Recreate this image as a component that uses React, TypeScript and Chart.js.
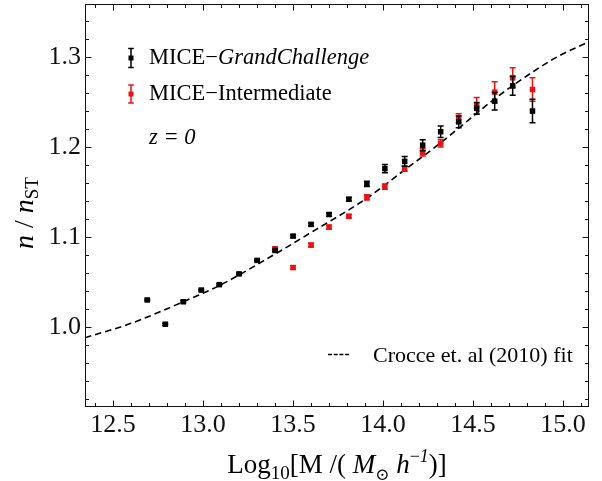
import { useEffect, useRef } from "react";
import { Chart, registerables } from "chart.js";

Chart.register(...registerables);

// MICE-GrandChallenge halo mass function ratio
const massGC = [12.69, 12.79, 12.89, 12.99, 13.09, 13.2, 13.3, 13.4, 13.5, 13.6, 13.7, 13.81, 13.91, 14.01, 14.12, 14.22, 14.32, 14.42, 14.52, 14.62, 14.72, 14.83];
const ratioGC = [1.03, 1.003, 1.028, 1.041, 1.047, 1.059, 1.074, 1.085, 1.101, 1.114, 1.125, 1.142, 1.159, 1.176, 1.184, 1.202, 1.217, 1.228, 1.243, 1.251, 1.268, 1.24];
const errGC = [0.001, 0.001, 0.001, 0.001, 0.001, 0.001, 0.001, 0.001, 0.0015, 0.0015, 0.002, 0.002, 0.003, 0.0045, 0.0055, 0.006, 0.0063, 0.0065, 0.0065, 0.0097, 0.0105, 0.013];

// MICE-Intermediate halo mass function ratio
const massInt = [13.4, 13.5, 13.6, 13.7, 13.81, 13.91, 14.01, 14.12, 14.22, 14.32, 14.42, 14.52, 14.62, 14.72, 14.83];
const ratioInt = [1.087, 1.066, 1.091, 1.111, 1.123, 1.144, 1.156, 1.176, 1.194, 1.204, 1.232, 1.246, 1.261, 1.277, 1.264];
const errInt = [0.002, 0.002, 0.002, 0.002, 0.002, 0.003, 0.003, 0.003, 0.004, 0.004, 0.005, 0.009, 0.0115, 0.011, 0.013];

// Crocce et al. (2010) fit
const fitMass = [12.344, 12.6, 12.89, 13.09, 13.4, 13.6, 13.909, 14.116, 14.316, 14.42, 14.623, 14.798, 14.965, 15.144];
const fitRatio = [0.988, 1.004, 1.028, 1.046, 1.081, 1.105, 1.143, 1.174, 1.204, 1.221, 1.254, 1.279, 1.3, 1.317];

const xTicks = [12.5, 13.0, 13.5, 14.0, 14.5, 15.0];
const yTicks = [1.0, 1.1, 1.2, 1.3];
const X_MIN = 12.344;
const X_MAX = 15.144;
const Y_MIN = 0.911;
const Y_MAX = 1.359;

const SERIF = "'Liberation Serif', 'DejaVu Serif', serif";
const RED = "#ee1111";
const errorSets = [errGC, errInt];

type Seg = { t: string; font: string; dy?: number };

function richWidth(ctx: CanvasRenderingContext2D, segs: Seg[]) {
  let w = 0;
  for (const s of segs) {
    ctx.font = s.font;
    w += ctx.measureText(s.t).width;
  }
  return w;
}

function drawRich(ctx: CanvasRenderingContext2D, segs: Seg[], x: number, y: number, center: boolean) {
  let cx = center ? x - richWidth(ctx, segs) / 2 : x;
  ctx.textAlign = "left";
  ctx.textBaseline = "alphabetic";
  for (const s of segs) {
    ctx.font = s.font;
    ctx.fillText(s.t, cx, y + (s.dy || 0));
    cx += ctx.measureText(s.t).width;
  }
}

function errIcon(ctx: CanvasRenderingContext2D, x: number, y: number, half: number, color: string) {
  ctx.save();
  ctx.strokeStyle = color;
  ctx.fillStyle = color;
  ctx.lineWidth = 1.5;
  ctx.beginPath();
  ctx.moveTo(x, y - half);
  ctx.lineTo(x, y + half);
  ctx.moveTo(x - 2.8, y - half);
  ctx.lineTo(x + 2.8, y - half);
  ctx.moveTo(x - 2.8, y + half);
  ctx.lineTo(x + 2.8, y + half);
  ctx.stroke();
  ctx.fillRect(x - 2.5, y - 2.5, 5, 5);
  ctx.restore();
}

// error bars drawn under each series' markers
const errorBarPlugin = {
  id: "errorBars",
  beforeDatasetDraw(chart: any, args: any) {
    const errs = errorSets[args.index];
    if (!errs) return;
    const ds = chart.data.datasets[args.index];
    const { ctx, scales } = chart;
    ctx.save();
    ctx.strokeStyle = ds.backgroundColor;
    ctx.lineWidth = 1.5;
    ctx.beginPath();
    ds.data.forEach((p: any, i: number) => {
      const x = scales.x.getPixelForValue(p.x);
      const yt = scales.y.getPixelForValue(p.y + errs[i]);
      const yb = scales.y.getPixelForValue(p.y - errs[i]);
      ctx.moveTo(x, yt);
      ctx.lineTo(x, yb);
      ctx.moveTo(x - 3, yt);
      ctx.lineTo(x + 3, yt);
      ctx.moveTo(x - 3, yb);
      ctx.lineTo(x + 3, yb);
    });
    ctx.stroke();
    ctx.restore();
  },
};

// frame with inward ticks on all four sides, axis titles and legend
const framePlugin = {
  id: "frame",
  afterDatasetsDraw(chart: any) {
    const { ctx, chartArea: a, scales } = chart;
    const L = Math.round(a.left) + 0.5;
    const R = Math.round(a.right) - 0.5;
    const T = Math.round(a.top) + 0.5;
    const B = Math.round(a.bottom) - 0.5;
    ctx.save();
    ctx.strokeStyle = "#111";
    ctx.lineWidth = 1;
    ctx.strokeRect(L, T, R - L, B - T);
    ctx.beginPath();
    for (let k = 124; k <= 151; k++) {
      const v = k / 10;
      const x = Math.round(scales.x.getPixelForValue(v)) + 0.5;
      const len = k % 5 === 0 ? 6 : 3.5;
      ctx.moveTo(x, B);
      ctx.lineTo(x, B - len);
      ctx.moveTo(x, T);
      ctx.lineTo(x, T + len);
    }
    for (let k = 46; k <= 67; k++) {
      const v = k / 50;
      const y = Math.round(scales.y.getPixelForValue(v)) + 0.5;
      const len = k % 5 === 0 ? 6 : 3.5;
      ctx.moveTo(L, y);
      ctx.lineTo(L + len, y);
      ctx.moveTo(R, y);
      ctx.lineTo(R - len, y);
    }
    ctx.stroke();

    ctx.fillStyle = "#000";
    const reg = (s: number) => `${s}px ${SERIF}`;
    const ital = (s: number) => `italic ${s}px ${SERIF}`;

    // x-axis title
    drawRich(
      ctx,
      [
        { t: "Log", font: reg(27) },
        { t: "10", font: reg(19), dy: 6 },
        { t: "[M /( ", font: reg(27) },
        { t: "M", font: ital(27) },
        { t: "\u2299", font: reg(17), dy: 7 },
        { t: " h", font: ital(27) },
        { t: "\u2212", font: reg(18), dy: -11 },
        { t: "1", font: ital(18), dy: -11 },
        { t: ")]", font: reg(27) },
      ],
      (a.left + a.right) / 2,
      473,
      true
    );

    // y-axis title
    ctx.save();
    ctx.translate(33, 213);
    ctx.rotate(-Math.PI / 2);
    drawRich(
      ctx,
      [
        { t: "n", font: ital(28) },
        { t: " / ", font: reg(28) },
        { t: "n", font: ital(28) },
        { t: "ST", font: reg(19), dy: 5 },
      ],
      0,
      0,
      true
    );
    ctx.restore();

    // legend
    errIcon(ctx, 131, 58, 9.5, "#000");
    errIcon(ctx, 131, 94, 9, RED);
    ctx.fillStyle = "#000";
    drawRich(ctx, [{ t: "MICE\u2212", font: reg(22.5) }, { t: "GrandChallenge", font: ital(22.5) }], 149, 64, false);
    drawRich(ctx, [{ t: "MICE\u2212Intermediate", font: reg(22.5) }], 149, 100, false);
    drawRich(ctx, [{ t: "z = 0", font: ital(22.5) }], 149, 144, false);

    ctx.strokeStyle = "#000";
    ctx.lineWidth = 1.5;
    ctx.setLineDash([4, 1.7]);
    ctx.beginPath();
    ctx.moveTo(328, 354.5);
    ctx.lineTo(350, 354.5);
    ctx.stroke();
    ctx.setLineDash([]);
    drawRich(ctx, [{ t: "Crocce et. al (2010) fit", font: reg(22) }], 373, 362, false);
    ctx.restore();
  },
};

export default function App() {
  const canvasRef = useRef<HTMLCanvasElement | null>(null);

  useEffect(() => {
    const canvas = canvasRef.current;
    if (!canvas) return;
    const tickFont = { family: SERIF, size: 26 };
    const chart = new Chart(canvas, {
      type: "scatter",
      data: {
        datasets: [
          {
            label: "MICE-GrandChallenge",
            data: massGC.map((x, i) => ({ x, y: ratioGC[i] })),
            backgroundColor: "#000",
            borderWidth: 0,
            pointStyle: "rect",
            pointRadius: 3.9,
            showLine: false,
          },
          {
            label: "MICE-Intermediate",
            data: massInt.map((x, i) => ({ x, y: ratioInt[i] })),
            backgroundColor: RED,
            borderWidth: 0,
            pointStyle: "rect",
            pointRadius: 3.9,
            showLine: false,
          },
          {
            type: "line",
            label: "Crocce et. al (2010) fit",
            data: fitMass.map((x, i) => ({ x, y: fitRatio[i] })),
            borderColor: "#000",
            borderWidth: 1.6,
            borderDash: [6.5, 4],
            pointRadius: 0,
            fill: false,
            cubicInterpolationMode: "monotone",
          } as any,
        ],
      },
      options: {
        animation: false,
        responsive: true,
        maintainAspectRatio: false,
        layout: { padding: { left: 0, right: 13, top: 4, bottom: 0 } },
        plugins: { legend: { display: false }, tooltip: { enabled: false } },
        scales: {
          x: {
            type: "linear",
            min: X_MIN,
            max: X_MAX,
            grid: { display: false, drawTicks: false },
            border: { display: false },
            afterBuildTicks: (s: any) => {
              s.ticks = xTicks.map((v) => ({ value: v }));
            },
            afterFit: (s: any) => {
              s.height = 74;
              s.paddingLeft = 0;
              s.paddingRight = 0;
            },
            ticks: {
              font: tickFont,
              color: "#111",
              padding: 3,
              maxRotation: 0,
              autoSkip: false,
              callback: (v: any) => Number(v).toFixed(1),
            },
          },
          y: {
            type: "linear",
            min: Y_MIN,
            max: Y_MAX,
            grid: { display: false, drawTicks: false },
            border: { display: false },
            afterBuildTicks: (s: any) => {
              s.ticks = yTicks.map((v) => ({ value: v }));
            },
            afterFit: (s: any) => {
              s.width = 85;
              s.paddingTop = 0;
              s.paddingBottom = 0;
            },
            ticks: {
              font: tickFont,
              color: "#111",
              padding: 4,
              autoSkip: false,
              callback: (v: any) => Number(v).toFixed(1),
            },
          },
        },
      },
      plugins: [errorBarPlugin, framePlugin],
    });
    return () => chart.destroy();
  }, []);

  return (
    <div style={{ position: "fixed", left: 0, top: 0, width: 602, height: 481, background: "#fff" }}>
      <canvas ref={canvasRef} />
    </div>
  );
}
